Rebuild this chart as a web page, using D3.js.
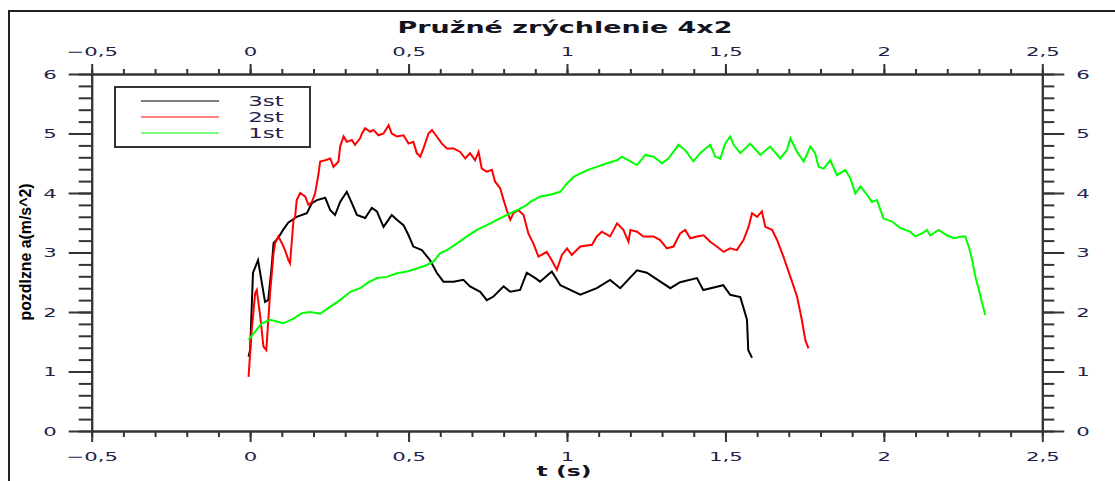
<!DOCTYPE html>
<html>
<head>
<meta charset="utf-8">
<script src="https://cdn.jsdelivr.net/npm/d3@7"></script>
<style>
  html, body { margin: 0; padding: 0; background: #fff; }
  svg { display: block; }
</style>
</head>
<body>
<svg id="chart" width="1115" height="481"></svg>
<script>
// ---------------- DATA ----------------
const chartTitle = "Pružné zrýchlenie 4x2";
const xLabel = "t (s)";
const yLabel = "pozdlzne a(m/s^2)";
const seriesNames = ["3st", "2st", "1st"];
const seriesColors = ["#000000", "#ff0000", "#00ff00"];
const xTicks = [-0.5, 0, 0.5, 1, 1.5, 2, 2.5];
const yTicks = [0, 1, 2, 3, 4, 5, 6];

// 3st (black)
const t3 = [-0.005,0.0,0.009,0.025,0.037,0.047,0.057,0.068,0.074,0.088,0.104,0.12,0.147,0.179,0.195,0.211,0.237,0.253,0.268,0.284,0.305,0.321,0.337,0.363,0.384,0.4,0.421,0.447,0.463,0.484,0.5,0.515,0.542,0.568,0.589,0.61,0.642,0.673,0.694,0.726,0.747,0.768,0.8,0.821,0.852,0.873,0.9,0.915,0.952,0.979,1.042,1.094,1.136,1.168,1.221,1.252,1.326,1.357,1.41,1.43,1.493,1.515,1.547,1.568,1.572,1.584];
const a3 = [1.25,1.36,2.66,2.87,2.49,2.17,2.2,2.76,3.16,3.24,3.38,3.5,3.6,3.66,3.83,3.88,3.92,3.71,3.63,3.85,4.02,3.83,3.63,3.58,3.75,3.69,3.43,3.63,3.55,3.46,3.29,3.1,3.04,2.87,2.66,2.51,2.51,2.54,2.43,2.34,2.2,2.26,2.43,2.34,2.37,2.66,2.57,2.51,2.68,2.45,2.29,2.4,2.54,2.4,2.7,2.66,2.4,2.5,2.57,2.37,2.45,2.29,2.25,1.87,1.36,1.23];

// 2st (red)
const t2 = [-0.005,0.005,0.016,0.021,0.032,0.042,0.051,0.058,0.063,0.074,0.079,0.089,0.1,0.11,0.121,0.126,0.137,0.142,0.147,0.158,0.174,0.184,0.195,0.205,0.216,0.221,0.237,0.253,0.263,0.279,0.284,0.295,0.305,0.321,0.331,0.347,0.353,0.363,0.379,0.389,0.405,0.421,0.437,0.447,0.463,0.484,0.5,0.515,0.526,0.537,0.547,0.563,0.574,0.589,0.605,0.621,0.642,0.663,0.679,0.694,0.71,0.721,0.731,0.747,0.763,0.773,0.789,0.8,0.81,0.821,0.831,0.847,0.863,0.878,0.894,0.91,0.936,0.952,0.968,0.984,1.0,1.015,1.042,1.079,1.094,1.11,1.136,1.158,1.178,1.194,1.2,1.221,1.241,1.273,1.294,1.315,1.336,1.357,1.373,1.389,1.41,1.431,1.452,1.473,1.494,1.515,1.536,1.557,1.573,1.584,1.6,1.615,1.626,1.647,1.663,1.683,1.705,1.726,1.741,1.752,1.762];
const a2 = [0.91,1.70,2.32,2.37,1.92,1.42,1.36,1.92,2.32,2.99,3.16,3.27,3.16,3.04,2.87,2.82,3.55,3.60,3.88,4.00,3.94,3.80,3.85,3.99,4.33,4.53,4.55,4.58,4.44,4.53,4.78,4.95,4.86,4.89,4.81,4.92,5.00,5.09,5.03,5.06,4.97,5.00,5.14,5.00,4.95,4.97,4.83,4.86,4.67,4.61,4.75,5.00,5.06,4.95,4.83,4.75,4.75,4.69,4.58,4.67,4.55,4.69,4.41,4.36,4.39,4.19,4.08,3.88,3.71,3.55,3.66,3.71,3.63,3.32,3.15,2.93,3.01,2.87,2.71,2.96,3.07,2.96,3.10,3.13,3.27,3.35,3.27,3.49,3.38,3.18,3.38,3.35,3.27,3.27,3.21,3.07,3.10,3.32,3.38,3.24,3.27,3.29,3.18,3.10,3.01,3.07,3.04,3.21,3.43,3.66,3.60,3.69,3.43,3.38,3.21,2.93,2.59,2.26,1.87,1.53,1.39];

// 1st (green)
const t1 = [-0.005,0.016,0.037,0.063,0.084,0.105,0.137,0.163,0.189,0.221,0.253,0.284,0.316,0.347,0.368,0.4,0.432,0.463,0.495,0.526,0.558,0.579,0.6,0.621,0.652,0.684,0.716,0.747,0.779,0.81,0.842,0.873,0.884,0.905,0.915,0.947,0.979,1.0,1.021,1.042,1.068,1.094,1.126,1.158,1.173,1.2,1.221,1.247,1.273,1.3,1.32,1.352,1.373,1.399,1.42,1.452,1.468,1.484,1.499,1.515,1.526,1.547,1.578,1.61,1.641,1.673,1.694,1.705,1.726,1.747,1.768,1.783,1.794,1.81,1.831,1.852,1.878,1.894,1.91,1.926,1.947,1.962,1.978,1.999,2.026,2.052,2.083,2.099,2.12,2.136,2.146,2.173,2.199,2.22,2.247,2.257,2.268,2.279,2.289,2.3,2.31,2.32];
const a1 = [1.53,1.67,1.81,1.87,1.84,1.81,1.89,1.98,2.00,1.97,2.09,2.20,2.34,2.40,2.48,2.57,2.59,2.65,2.68,2.73,2.79,2.85,2.99,3.04,3.15,3.27,3.38,3.46,3.55,3.63,3.71,3.80,3.85,3.91,3.94,3.97,4.02,4.16,4.27,4.33,4.39,4.44,4.50,4.55,4.61,4.53,4.47,4.64,4.61,4.50,4.58,4.81,4.72,4.53,4.67,4.81,4.61,4.58,4.83,4.95,4.81,4.67,4.83,4.64,4.78,4.58,4.72,4.92,4.69,4.53,4.78,4.67,4.44,4.41,4.55,4.30,4.39,4.25,3.99,4.11,3.97,3.85,3.88,3.57,3.52,3.41,3.35,3.27,3.32,3.38,3.29,3.38,3.29,3.24,3.27,3.27,3.10,2.87,2.59,2.37,2.15,1.95];

const seriesT = [t3, t2, t1];
const seriesA = [a3, a2, a1];

// ---------------- DRAW ----------------
const svg = d3.select("#chart");
const FONT = "'DejaVu Sans', Verdana, sans-serif";
const TXT = "#22224a";
const AX = "#333333";
const SX = 1.7; // horizontal stretch of the reference text

svg.append("rect").attr("width", 1115).attr("height", 481).attr("fill", "#fff");

// outer frame (top + left visible)
svg.append("path").attr("d", "M9,481 L9,11 L1115,11")
  .attr("fill", "none").attr("stroke", "#222").attr("stroke-width", 2);

const x = d3.scaleLinear().domain([-0.5, 2.5]).range([91.7, 1042.3]);
const y = d3.scaleLinear().domain([0, 6]).range([431, 74]);

const loc = d3.formatLocale({decimal: ",", thousands: ".", grouping: [3], currency: ["", ""], minus: "\u2212"});
const fmt = loc.format("~g");

const xMinor = d3.range(-5, 26).map(v => v / 10);
const yMinor = d3.range(0, 31).map(v => v / 5);

function styleAxis(g) {
  g.select(".domain").attr("stroke", AX).attr("stroke-width", 2);
  g.selectAll(".tick line").attr("stroke", AX).attr("stroke-width", 2);
}
function styleLabels(g, dx, dy) {
  g.selectAll(".tick text")
    .attr("x", 0).attr("y", 0).attr("dy", "0.35em")
    .attr("text-anchor", "middle")
    .attr("transform", `translate(${dx},${dy}) scale(${SX},1)`)
    .attr("fill", TXT)
    .style("font-family", FONT).style("font-size", "12.5px");
}

// bottom
const gB1 = svg.append("g").attr("transform", `translate(0,${y(0)})`)
  .call(d3.axisBottom(x).tickValues(xMinor).tickSize(6).tickSizeOuter(0).tickFormat(""));
styleAxis(gB1);
const gB = svg.append("g").attr("transform", `translate(0,${y(0)})`)
  .call(d3.axisBottom(x).tickValues(xTicks).tickSize(11).tickSizeOuter(0).tickFormat(fmt));
styleAxis(gB); styleLabels(gB, 0, 26);

// top
const gT1 = svg.append("g").attr("transform", `translate(0,${y(6)})`)
  .call(d3.axisTop(x).tickValues(xMinor).tickSize(5).tickSizeOuter(0).tickFormat(""));
styleAxis(gT1);
const gT = svg.append("g").attr("transform", `translate(0,${y(6)})`)
  .call(d3.axisTop(x).tickValues(xTicks).tickSize(10).tickSizeOuter(0).tickFormat(fmt));
styleAxis(gT); styleLabels(gT, 0, -22);

// left
const gL1 = svg.append("g").attr("transform", `translate(${x(-0.5)},0)`)
  .call(d3.axisLeft(y).tickValues(yMinor).tickSize(13).tickSizeOuter(0).tickFormat(""));
styleAxis(gL1);
const gL = svg.append("g").attr("transform", `translate(${x(-0.5)},0)`)
  .call(d3.axisLeft(y).tickValues(yTicks).tickSize(23).tickSizeOuter(0).tickFormat(fmt));
styleAxis(gL); styleLabels(gL, -41.7, 0);

// right
const gR1 = svg.append("g").attr("transform", `translate(${x(2.5)},0)`)
  .call(d3.axisRight(y).tickValues(yMinor).tickSize(12).tickSizeOuter(0).tickFormat(""));
styleAxis(gR1);
const gR = svg.append("g").attr("transform", `translate(${x(2.5)},0)`)
  .call(d3.axisRight(y).tickValues(yTicks).tickSize(22).tickSizeOuter(0).tickFormat(fmt));
styleAxis(gR); styleLabels(gR, 40.7, 0);

// series lines
const line = d3.line().x(d => x(d[0])).y(d => y(d[1]));
seriesNames.forEach((name, i) => {
  const pts = seriesT[i].map((t, j) => [t, seriesA[i][j]]);
  svg.append("path").datum(pts)
    .attr("d", line)
    .attr("fill", "none")
    .attr("stroke", seriesColors[i])
    .attr("stroke-width", 2)
    .attr("stroke-linejoin", "miter");
});

// legend
const leg = svg.append("g");
leg.append("rect").attr("x", 115).attr("y", 87).attr("width", 195).attr("height", 60)
  .attr("fill", "#fff").attr("stroke", AX).attr("stroke-width", 2);
const legY = [101, 117, 133];
seriesNames.forEach((name, i) => {
  leg.append("line").attr("x1", 141).attr("x2", 219).attr("y1", legY[i]).attr("y2", legY[i])
    .attr("stroke", seriesColors[i]).attr("stroke-width", 1.2);
  leg.append("text").attr("x", 0).attr("y", 0).attr("dy", "0.35em")
    .attr("text-anchor", "middle")
    .attr("transform", `translate(266,${legY[i]}) scale(${SX},1)`)
    .attr("fill", TXT)
    .style("font-family", FONT).style("font-size", "13.5px")
    .text(name);
});

// title
svg.append("text").attr("x", 565).attr("y", 32.5)
  .attr("text-anchor", "middle")
  .attr("textLength", 335).attr("lengthAdjust", "spacingAndGlyphs")
  .attr("fill", "#14141e")
  .style("font-family", FONT).style("font-weight", "bold").style("font-size", "15px")
  .text(chartTitle);

// x label
svg.append("text").attr("x", 564).attr("y", 476)
  .attr("text-anchor", "middle")
  .attr("textLength", 55).attr("lengthAdjust", "spacingAndGlyphs")
  .attr("fill", "#14141e")
  .style("font-family", FONT).style("font-weight", "bold").style("font-size", "14px")
  .text(xLabel);

// y label
svg.append("text")
  .attr("transform", "translate(31,252) rotate(-90)")
  .attr("x", 0).attr("y", 0)
  .attr("text-anchor", "middle")
  .attr("textLength", 137).attr("lengthAdjust", "spacingAndGlyphs")
  .attr("fill", "#000")
  .style("font-family", "'Liberation Sans Narrow', 'Liberation Sans', Arial, sans-serif")
  .style("font-weight", "bold").style("font-size", "16px")
  .text(yLabel);
</script>
</body>
</html>
